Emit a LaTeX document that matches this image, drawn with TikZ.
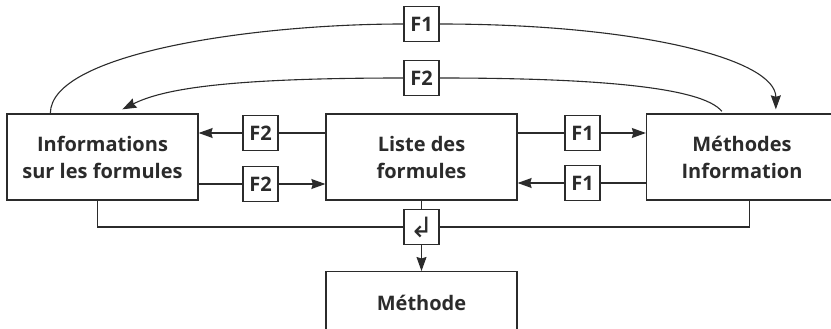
\documentclass[tikz,border=0pt]{standalone}
\usepackage{fontspec}
\setmainfont{Open Sans}
\newfontfamily\symfont{DejaVu Sans}
\usepackage{tikz}
\usetikzlibrary{arrows.meta, positioning, calc}
\definecolor{lineA}{HTML}{2B2B2B}
\tikzset{
  block/.style={
    draw=lineA, line width=1.3pt, align=center, text=lineA,
    minimum width=191pt, minimum height=86pt,
    font=\fontsize{20}{27}\selectfont\bfseries
  },
  tag/.style={
    draw=lineA, line width=1.2pt, minimum size=35pt, inner sep=0pt,
    text=lineA, font=\fontsize{20}{22}\selectfont\bfseries
  },
  arrow/.style={-{Stealth[length=14pt, width=10pt, inset=1.5pt]}, line width=1.1pt, draw=lineA},
  link/.style={line width=1.1pt, draw=lineA}
}
\begin{document}
\begin{tikzpicture}[x=1pt, y=-1pt]
  \useasboundingbox (0,0) rectangle (831,329);
  \clip (0,0) rectangle (831,329);
  % main blocks
  \node[block] (info) at (102.5,157) {Informations\\sur les formules};
  \node[block] (liste) at (421.5,157) {Liste des\\formules};
  \node[block] (meth) at (742,157) {Méthodes\\Information};
  \node[block, minimum height=62pt, anchor=north] (methode) at (421.5,271) {Méthode};
  % key tags
  \node[tag] (f2a) at (260.5,133) {F2};
  \node[tag] (f2b) at (260.5,184) {F2};
  \node[tag] (f1a) at (582.5,133) {F1};
  \node[tag] (f1b) at (582.5,183) {F1};
  \node[tag] (f1top) at (421.5,24) {F1};
  \node[tag] (f2top) at (421.5,78) {F2};
  \node[tag, font=\symfont\fontsize{28}{28}\selectfont] (ret) at (421.5,227) {↲};
  % horizontal links
  \draw[link] (liste.west |- f2a) -- (f2a);
  \draw[arrow] (f2a) -- (info.east |- f2a);
  \draw[link] (info.east |- f2b) -- (f2b);
  \draw[arrow] (f2b) -- (liste.west |- f2b);
  \draw[link] (liste.east |- f1a) -- (f1a);
  \draw[arrow] (f1a) -- (meth.west |- f1a);
  \draw[link] (meth.west |- f1b) -- (f1b);
  \draw[arrow] (f1b) -- (liste.east |- f1b);
  % arcs over the top
  \draw[link] ($(info.north west)+(44,0)$) .. controls +(0,-60) and +(-150,0) .. (f1top.west);
  \draw[arrow] (f1top.east) .. controls +(200,0) and +(0,-50) .. ($(meth.north west)+(130,-4)$);
  \draw[link] ($(meth.north west)+(76,-2)$) .. controls +(-20,-25) and +(150,0) .. (f2top.east);
  \draw[arrow] (f2top.west) .. controls +(-180,0) and +(40,-20) .. ($(info.north west)+(116,-4)$);
  % return key at the bottom
  \draw[link] ($(info.south west)+(91,0)$) |- (ret.west);
  \draw[link] ($(meth.south west)+(104,0)$) |- (ret.east);
  \draw[link] (liste.south) -- (ret.north);
  \draw[arrow] (ret) -- (methode);
\end{tikzpicture}
\end{document}
